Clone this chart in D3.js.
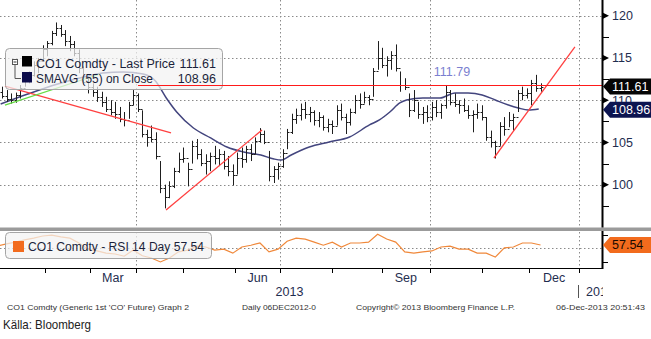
<!DOCTYPE html>
<html><head><meta charset="utf-8">
<script src="https://cdn.jsdelivr.net/npm/d3@7"></script>
<style>
body{margin:0;background:#fff}
svg{display:block}
text{font-family:"Liberation Sans",Arial,sans-serif}
</style>
</head><body>
<svg id="c" width="651" height="339"></svg>
<script>
// ---- DATA ----
// two-trading-day OHLC bars, Jan -> 6 Dec 2013 (CO1 Comdty)
const hi = [111.8,111.6,111.2,110.8,110.9,111.8,113.0,113.4,114.6,115.0,
            116.5,117.0,118.2,119.2,118.9,118.3,117.6,117.0,116.0,114.0,
            112.8,112.0,111.6,111.0,110.4,110.0,109.8,109.2,108.6,109.8,
            111.2,110.8,108.8,106.5,107.0,106.2,102.8,100.0,100.4,102.0,
            103.8,104.4,102.6,105.2,105.4,104.2,103.6,103.8,104.6,104.2,
            104.0,103.4,102.4,103.8,104.4,104.6,104.8,105.6,106.7,106.4,
            104.0,102.2,102.6,104.2,106.6,108.4,109.0,109.6,109.8,109.2,
            108.8,108.6,108.2,107.8,107.6,109.4,109.6,108.4,109.0,110.6,
            110.8,111.0,110.6,113.8,117.0,116.2,115.2,115.8,116.6,113.4,
            112.6,110.8,111.2,109.8,109.2,109.4,109.8,110.0,109.6,111.8,
            111.2,110.8,110.0,110.2,109.4,108.8,109.6,109.4,108.0,106.4,
            105.2,107.4,108.0,108.6,108.4,111.2,111.6,111.4,112.4,113.0,112.0];
const lo = [110.6,110.2,109.8,109.6,109.7,110.2,111.6,112.0,112.8,113.2,
            114.6,115.2,116.5,117.6,117.5,116.4,115.8,115.2,113.2,111.8,
            110.8,110.4,109.8,109.2,108.6,108.2,107.8,107.4,106.9,107.8,
            109.4,108.6,105.6,104.5,105.0,103.0,99.0,97.2,98.4,99.6,
            101.4,102.6,99.8,102.5,103.0,102.2,101.2,101.6,102.4,102.2,
            101.8,101.0,99.9,101.2,102.0,102.6,102.8,103.6,105.0,104.8,
            100.4,100.2,100.6,102.0,104.2,106.0,107.2,107.6,107.8,107.4,
            107.0,106.8,106.4,106.2,106.0,107.0,107.6,106.0,107.0,108.4,
            109.0,109.6,109.4,110.4,113.6,113.8,112.8,113.6,113.4,111.0,
            111.2,108.0,108.6,107.8,107.2,107.4,107.6,108.0,107.8,109.0,
            109.4,109.2,108.4,108.6,107.8,106.2,107.8,107.6,105.2,104.4,
            103.1,104.6,105.8,106.8,106.4,108.6,110.0,110.2,109.4,111.0,111.0];
const cl = [111.0,110.5,110.2,110.0,110.6,111.5,112.6,113.0,114.2,114.6,
            116.0,116.8,117.9,118.6,117.8,117.0,116.6,115.6,113.8,112.2,
            111.6,111.0,110.4,109.8,109.0,108.6,108.4,107.8,107.6,109.4,
            110.6,109.0,106.0,105.6,105.4,103.4,99.6,98.6,99.8,101.6,
            103.0,103.2,101.8,104.6,103.6,102.6,102.8,103.4,103.2,103.6,
            102.2,101.6,101.2,103.2,103.0,104.2,103.6,105.2,106.0,105.0,
            101.0,101.8,102.2,103.8,106.2,107.8,108.2,109.0,108.4,108.6,
            107.6,108.0,106.8,107.2,107.0,108.8,108.0,107.4,108.6,110.0,
            109.6,110.4,110.2,113.4,115.0,114.2,114.8,115.4,113.8,111.8,
            111.6,108.8,110.0,108.4,108.6,108.0,109.2,108.6,109.4,111.0,
            109.8,109.6,109.4,108.8,108.2,108.4,108.6,108.0,105.6,105.0,
            104.6,107.0,106.6,107.6,108.0,110.8,110.6,110.8,112.0,111.4,111.61];
// SMAVG(55) on close: bar position -> value
const smaIdx = [0.7,6.7,13.3,20,23.3,27.8,32.2,34.9,37.3,39.6,43.3,47.1,50.7,54.4,58.2,61.1,62.7,64.9,
                68.9,73.3,77.8,82.2,84.4,86.7,88.9,90.4,94,97.8,101.1,104,107.1,110,112.9,115.1,117.3,119.6];
const smaVal = [109.55,110.73,111.92,112.86,113.22,113.34,113.1,112.27,110.26,108.6,106.71,105.53,104.46,
                103.87,103.52,103.04,102.92,103.52,104.46,105.05,105.65,107.07,107.66,108.6,109.67,110.02,
                110.26,110.26,110.85,110.85,110.62,110.02,109.43,109.08,108.84,108.96];
// RSI 14 day, one value every second bar
const rsiVal = [55,60,64,69,73,78,80,76,73,62,48,44,39,37,32,46,33,28,19,28,42,46,55,53,46,48,39,53,57,62,
                42,48,66,73,71,64,57,64,53,62,62,64,82,71,64,42,39,42,44,53,55,48,48,39,39,30,51,53,62,62,57.54];
const priceTicks = [100,105,110,115,120];
const minorTicks = [97.5,102.5,107.5,112.5,117.5];
const rsiTicks = [20,80];
const monthLabels = {2:"Mar",5:"Jun",8:"Sep",11:"Dec"};
const holidays = ["2013-03-29","2013-04-01"];
// analyst trend lines: [bar position, price]
const trends = [
  {color:"#ff4040", pts:[[1.65,111.68],[38.35,106.12]]},
  {color:"#66dd44", pts:[[1.65,109.43],[22.65,113.1]]},
  {color:"#ff4040", pts:[[37.25,97.0],[58.45,106.47]]},
  {color:"#ff4040", pts:[[109.7,103.16],[127.6,116.3]]}
];
const resistance = {value:111.79, from:31.05};
const lastPrice = 111.61, lastSma = 108.96, lastRsi = 57.54;

// ---- trading-day calendar ----
const fmt = d3.timeFormat("%Y-%m-%d");
const days = d3.timeDays(new Date(2013,0,3), new Date(2014,0,3))
  .filter(d => d.getDay()!==0 && d.getDay()!==6 && !holidays.includes(fmt(d)));
const idxOf = dt => days.findIndex(d => d >= dt);
const x = d3.scaleLinear().domain([idxOf(new Date(2013,1,1)), idxOf(new Date(2014,0,1))]).range([45,579]);
const xb = i => x(2*i);   // bar position -> pixel
const y = d3.scaleLinear().domain([100,120]).range([184.7,15.7]);
const yr = d3.scaleLinear().domain([50,80]).range([248.3,235.1]);

const svg = d3.select("#c");
const RIGHT = 603, MAINB = 227.5, RSIT = 231, BOT = 268;
const navyTxt = "#1f2d4f";

const defs = svg.append("defs");
defs.append("clipPath").attr("id","plot")
  .append("rect").attr("x",0).attr("y",0).attr("width",RIGHT).attr("height",MAINB);
defs.append("clipPath").attr("id","axclip")
  .append("rect").attr("x",0).attr("y",0).attr("width",RIGHT).attr("height",339);

// grid
const grid = svg.append("g").attr("stroke","#8a8a8a").attr("stroke-dasharray","1.5,2.5").attr("stroke-width",1);
priceTicks.forEach(v => grid.append("line").attr("x1",0).attr("x2",RIGHT).attr("y1",Math.round(y(v))+0.5).attr("y2",Math.round(y(v))+0.5));
grid.append("line").attr("x1",0).attr("x2",RIGHT).attr("y1",Math.round(yr(50))+0.5).attr("y2",Math.round(yr(50))+0.5);

const months = d3.range(1,13).map(m => new Date(2013,m,1));
months.forEach(m => {
  if ([3,6,9,0].includes(m.getMonth())) {
    const px = Math.round(x(idxOf(m)))+0.5;
    grid.append("line").attr("x1",px).attr("x2",px).attr("y1",0).attr("y2",BOT);
  }
});

const plot = svg.append("g").attr("clip-path","url(#plot)");

// SMA
const smaLine = d3.line().x((d,i)=>xb(smaIdx[i])).y(d=>y(d)).curve(d3.curveMonotoneX);
plot.append("path").attr("d",smaLine(smaVal)).attr("fill","none").attr("stroke","#43457e").attr("stroke-width",1.5);

// price bars
const bars = plot.append("g").attr("stroke","#1e1e1e").attr("stroke-width",1);
hi.forEach((h,i) => {
  const px = Math.round(xb(i))+0.5;
  bars.append("line").attr("x1",px).attr("x2",px).attr("y1",y(h)).attr("y2",y(lo[i]));
  if (i>0) bars.append("line").attr("x1",px-2).attr("x2",px).attr("y1",Math.round(y(cl[i-1]))+0.5).attr("y2",Math.round(y(cl[i-1]))+0.5);
  bars.append("line").attr("x1",px).attr("x2",px+2).attr("y1",Math.round(y(cl[i]))+0.5).attr("y2",Math.round(y(cl[i]))+0.5);
});

// trend lines
trends.forEach(t => plot.append("line")
  .attr("x1",xb(t.pts[0][0])).attr("y1",y(t.pts[0][1]))
  .attr("x2",xb(t.pts[1][0])).attr("y2",y(t.pts[1][1]))
  .attr("stroke",t.color).attr("stroke-width",1.3));

// RSI line
const rsiLine = d3.line().x((d,i)=>xb(2*i)).y(d=>yr(d));
svg.append("path").attr("d",rsiLine(rsiVal)).attr("fill","none").attr("stroke","#f0883a").attr("stroke-width",1.2);

// legend boxes
svg.append("rect").attr("x",5.5).attr("y",48.5).attr("width",217).attr("height",41).attr("rx",4)
  .attr("fill","#f3f3f3").attr("fill-opacity",0.72).attr("stroke","#a5a5a5");
svg.append("rect").attr("x",5.5).attr("y",232.5).attr("width",206).attr("height",26).attr("rx",4)
  .attr("fill","#f3f3f3").attr("fill-opacity",0.72).attr("stroke","#a5a5a5");

// resistance line (above legend)
svg.append("line").attr("x1",xb(resistance.from)).attr("x2",RIGHT)
  .attr("y1",Math.round(y(resistance.value))+0.5).attr("y2",Math.round(y(resistance.value))+0.5)
  .attr("stroke","#ff1a1a").attr("stroke-width",1.2);
svg.append("text").attr("x",452).attr("y",76).attr("text-anchor","middle").attr("font-size",12.5)
  .attr("fill","#7b7fd0").text(resistance.value.toFixed(2));

// legend contents
svg.append("rect").attr("x",12.5).attr("y",59.5).attr("width",5).attr("height",5).attr("fill","#fff").attr("stroke","#555");
svg.append("line").attr("x1",13.5).attr("x2",16.5).attr("y1",62).attr("y2",62).attr("stroke","#333");
svg.append("path").attr("d","M15,64.5 V78.5 H21").attr("fill","none").attr("stroke","#555");
svg.append("rect").attr("x",22).attr("y",56).attr("width",10).attr("height",10.5).attr("fill","#000");
svg.append("rect").attr("x",22).attr("y",72).attr("width",10).attr("height",10.5).attr("fill","#0c0c4a");
const lg = svg.append("g").attr("font-size",12.5).attr("fill","#1a1f3a");
lg.append("text").attr("x",36).attr("y",68).attr("textLength",139).attr("lengthAdjust","spacingAndGlyphs").text("CO1 Comdty - Last Price");
lg.append("text").attr("x",216).attr("y",68).attr("text-anchor","end").text(lastPrice.toFixed(2));
lg.append("text").attr("x",36).attr("y",82.5).attr("textLength",117).attr("lengthAdjust","spacingAndGlyphs").text("SMAVG (55) on Close");
lg.append("text").attr("x",216).attr("y",82.5).attr("text-anchor","end").text(lastSma.toFixed(2));
svg.append("rect").attr("x",13).attr("y",241).attr("width",11).attr("height",11).attr("fill","#f26b1d");
lg.append("text").attr("x",28).attr("y",250.5).attr("textLength",176).attr("lengthAdjust","spacingAndGlyphs")
  .text("CO1 Comdty - RSI 14 Day " + lastRsi.toFixed(2));

// separator band
svg.append("rect").attr("x",0).attr("y",MAINB).attr("width",651).attr("height",3.5).attr("fill","#9b9b9b");

// axes
svg.append("line").attr("x1",RIGHT-0.5).attr("x2",RIGHT-0.5).attr("y1",0).attr("y2",MAINB).attr("stroke","#000").attr("stroke-width",2);
svg.append("line").attr("x1",RIGHT-0.5).attr("x2",RIGHT-0.5).attr("y1",RSIT).attr("y2",BOT+1).attr("stroke","#000").attr("stroke-width",2);
svg.append("line").attr("x1",0).attr("x2",RIGHT).attr("y1",BOT+0.5).attr("y2",BOT+0.5).attr("stroke","#000").attr("stroke-width",1.2);

const ax = svg.append("g");
priceTicks.forEach(v => {
  const py = y(v);
  ax.append("path").attr("d",`M${RIGHT},${py-3}L${RIGHT+6},${py}L${RIGHT},${py+3}Z`).attr("fill","#000");
  ax.append("text").attr("x",612).attr("y",py+4.5).attr("font-size",12.5).attr("fill",navyTxt).text(v);
});
minorTicks.forEach(v => ax.append("line").attr("x1",RIGHT).attr("x2",RIGHT+6)
  .attr("y1",Math.round(y(v))+0.5).attr("y2",Math.round(y(v))+0.5).attr("stroke","#000"));
rsiTicks.forEach(v => ax.append("line").attr("x1",RIGHT).attr("x2",RIGHT+5)
  .attr("y1",Math.round(yr(v))+0.5).attr("y2",Math.round(yr(v))+0.5).attr("stroke","#000"));

// value tags
function tag(v, scale, fill, tcol) {
  const c = scale(v), h = 8;
  ax.append("path").attr("d",`M${RIGHT},${c}L${RIGHT+7},${c-h}H651V${c+h}H${RIGHT+7}Z`).attr("fill",fill);
  ax.append("text").attr("x",612).attr("y",c+4.5).attr("font-size",12.5).attr("fill",tcol).text(v.toFixed(2));
}
tag(lastPrice, y, "#050505", "#fff");
tag(lastSma, v => y(v)+0.8, "#0c1450", "#fff");
tag(lastRsi, yr, "#f26b1d", "#1a0a00");

// x axis ticks & labels
const xa = svg.append("g").attr("clip-path","url(#axclip)");
months.forEach(m => {
  const px = Math.round(x(idxOf(m)))+0.5;
  xa.append("line").attr("x1",px).attr("x2",px).attr("y1",BOT).attr("y2",BOT+5).attr("stroke","#000");
});
Object.keys(monthLabels).forEach(k => {
  const m0 = new Date(2013,+k,1), m1 = new Date(2013,+k+1,1);
  const cx = (x(idxOf(m0)) + x(idxOf(m1)))/2;
  xa.append("text").attr("x",cx).attr("y",282).attr("text-anchor","middle").attr("font-size",12.5)
    .attr("fill",navyTxt).text(monthLabels[k]);
});
const jan14 = x(idxOf(new Date(2014,0,1)));
xa.append("text").attr("x",(0+jan14)/2).attr("y",296).attr("text-anchor","middle").attr("font-size",12.5).attr("fill",navyTxt).text("2013");
xa.append("line").attr("x1",Math.round(jan14)-0.5).attr("x2",Math.round(jan14)-0.5).attr("y1",285).attr("y2",298).attr("stroke","#555");
xa.append("text").attr("x",jan14+7).attr("y",296).attr("font-size",12.5).attr("fill",navyTxt).text("2014");

// footer
const ft = svg.append("g").attr("font-size",8).attr("fill","#333").attr("font-family","DejaVu Sans");
[["CO1 Comdty (Generic 1st 'CO' Future) Graph 2",7,182],["Daily 06DEC2012-0",242,74],
 ["Copyright\u00A9 2013 Bloomberg Finance L.P.",356,159],["06-Dec-2013 20:51:43",556,89]]
 .forEach(([t,px,w]) => ft.append("text").attr("x",px).attr("y",310).attr("textLength",w)
   .attr("lengthAdjust","spacingAndGlyphs").text(t));
svg.append("text").attr("x",3).attr("y",329).attr("font-size",13).attr("fill","#222")
  .attr("font-family","'Liberation Sans Narrow','Liberation Sans',sans-serif")
  .attr("textLength",88).attr("lengthAdjust","spacingAndGlyphs").text("Källa: Bloomberg");
</script>
</body></html>
